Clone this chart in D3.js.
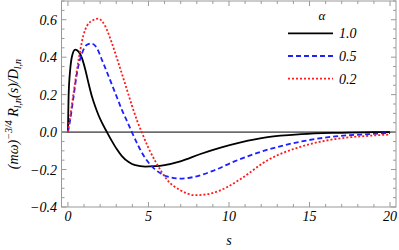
<!DOCTYPE html>
<html>
<head>
<meta charset="utf-8">
<script src="https://cdn.jsdelivr.net/npm/d3@7"></script>
<style>
  body { margin: 0; background: #fff; }
  text { font-family: "Liberation Serif", "DejaVu Serif", serif; font-style: italic; }
</style>
</head>
<body>
<div id="chart"></div>
<script>
// values
const alphas = ["1.0", "0.5", "0.2"];
const sBlack = [0, 0.02, 0.04, 0.14, 0.25, 0.45, 0.66, 0.87, 1.08, 1.28, 1.49, 1.7, 1.9, 2.11, 2.42, 2.73, 3.04, 3.35, 3.77, 4.18, 4.8, 5.42, 6.0, 6.98, 8.23, 9.48, 10.73, 12.4, 14.5, 16.6, 18.5, 20];
const vBlack = [0, 0.1, 0.19, 0.333, 0.404, 0.44, 0.43, 0.395, 0.333, 0.26, 0.19, 0.135, 0.09, 0.05, 0, -0.048, -0.092, -0.128, -0.16, -0.177, -0.184, -0.182, -0.176, -0.156, -0.117, -0.083, -0.055, -0.027, -0.011, -0.004, -0.001, 0];
const sBlue = [0, 0.14, 0.35, 0.56, 0.87, 1.18, 1.45, 1.8, 2.11, 2.53, 2.94, 3.35, 3.77, 3.97, 4.39, 4.8, 5.32, 5.73, 6.15, 6.98, 7.8, 9.06, 10.3, 12.4, 14.5, 16.6, 18.65, 20];
const vBlue = [0, 0.066, 0.19, 0.315, 0.42, 0.466, 0.473, 0.448, 0.386, 0.297, 0.208, 0.119, 0.039, 0, -0.077, -0.139, -0.192, -0.219, -0.237, -0.248, -0.24, -0.205, -0.158, -0.094, -0.05, -0.023, -0.011, -0.005];
const sRed = [0, 0.14, 0.35, 0.56, 0.77, 0.97, 1.2, 1.5, 1.88, 2.32, 2.73, 3.15, 3.56, 3.98, 4.3, 4.58, 5.0, 5.42, 5.8, 6.15, 6.98, 7.92, 8.86, 9.9, 10.73, 12.4, 14.5, 16.6, 18.65, 20];
const vRed = [0, 0.083, 0.208, 0.333, 0.44, 0.52, 0.57, 0.595, 0.606, 0.565, 0.475, 0.365, 0.255, 0.14, 0.06, 0, -0.085, -0.155, -0.21, -0.254, -0.31, -0.337, -0.328, -0.293, -0.25, -0.15, -0.077, -0.037, -0.02, -0.013];
const xTicks = [0, 5, 10, 15, 20];
const yTicks = [-0.4, -0.2, 0, 0.2, 0.4, 0.6];

const W = 399, H = 250;
const plot = { left: 61.5, right: 396, top: 1, bottom: 207 };

const svg = d3.select("#chart").append("svg")
  .attr("width", W).attr("height", H);

const x = d3.scaleLinear().domain([-0.4, 20.37]).range([plot.left, plot.right]);
const y = d3.scaleLinear().domain([-0.4, 0.7]).range([plot.bottom, plot.top]);

const frameColor = "#999";

// zero line
svg.append("line")
  .attr("x1", plot.left).attr("x2", plot.right)
  .attr("y1", y(0)).attr("y2", y(0))
  .attr("stroke", "#000").attr("stroke-width", 1);

// curves
const series = [
  { s: sBlack, v: vBlack, color: "#000", dash: null, width: 1.8 },
  { s: sBlue, v: vBlue, color: "#1f1fff", dash: "5,3", width: 1.8 },
  { s: sRed, v: vRed, color: "#ff1a1a", dash: "2,2", width: 1.8 }
];
const line = d3.line()
  .x(d => x(d[0])).y(d => y(d[1]))
  .curve(d3.curveMonotoneX);

series.forEach(sr => {
  svg.append("path")
    .datum(d3.zip(sr.s, sr.v))
    .attr("d", line)
    .attr("fill", "none")
    .attr("stroke", sr.color)
    .attr("stroke-width", sr.width)
    .attr("stroke-dasharray", sr.dash);
});

// frame
svg.append("rect")
  .attr("x", plot.left).attr("y", plot.top)
  .attr("width", plot.right - plot.left).attr("height", plot.bottom - plot.top)
  .attr("fill", "none").attr("stroke", frameColor).attr("stroke-width", 1);

// ticks on all four sides, pointing inward
const xMinor = d3.range(0, 21, 1);
const yMinor = d3.range(-8, 15).map(k => k * 0.05);
xMinor.forEach(t => {
  const len = t % 5 === 0 ? 5 : 3;
  svg.append("line").attr("x1", x(t)).attr("x2", x(t))
    .attr("y1", plot.bottom).attr("y2", plot.bottom - len).attr("stroke", frameColor);
  svg.append("line").attr("x1", x(t)).attr("x2", x(t))
    .attr("y1", plot.top).attr("y2", plot.top + len).attr("stroke", frameColor);
});
yMinor.forEach((t, k) => {
  const len = k % 4 === 0 ? 5 : 3;
  svg.append("line").attr("x1", plot.left).attr("x2", plot.left + len)
    .attr("y1", y(t)).attr("y2", y(t)).attr("stroke", frameColor);
  svg.append("line").attr("x1", plot.right).attr("x2", plot.right - len)
    .attr("y1", y(t)).attr("y2", y(t)).attr("stroke", frameColor);
});

// tick labels
svg.selectAll(".xl").data(xTicks).enter().append("text")
  .attr("x", d => x(d)).attr("y", 221)
  .attr("text-anchor", "middle").attr("font-size", 14)
  .text(d => d);
svg.selectAll(".yl").data(yTicks).enter().append("text")
  .attr("x", 57).attr("y", d => y(d) + 5)
  .attr("text-anchor", "end").attr("font-size", 14)
  .text(d => d3.format(".1f")(d).replace("-", "\u2212"));

// axis labels
svg.append("text")
  .attr("x", x(10)).attr("y", 245)
  .attr("text-anchor", "middle").attr("font-size", 14)
  .text("s");

const yl = svg.append("text")
  .attr("transform", `translate(18, ${114}) rotate(-90)`)
  .attr("text-anchor", "middle").attr("font-size", 14);
yl.append("tspan").text("(mω)");
yl.append("tspan").attr("dy", -6).attr("font-size", 10).text("−3/4");
yl.append("tspan").attr("dy", 6).text(" R");
yl.append("tspan").attr("dy", 3).attr("font-size", 10).text("l,n");
yl.append("tspan").attr("dy", -3).text("(s)/D");
yl.append("tspan").attr("dy", 3).attr("font-size", 10).text("l,n");

// legend
svg.append("text")
  .attr("x", 322).attr("y", 20)
  .attr("text-anchor", "middle").attr("font-size", 13)
  .text("α");
const legY = d3.scaleBand().domain(alphas).range([22, 90]);
alphas.forEach((a, i) => {
  const cy = legY(a) + legY.bandwidth() / 2;
  svg.append("line")
    .attr("x1", 288).attr("x2", 333)
    .attr("y1", cy).attr("y2", cy)
    .attr("stroke", series[i].color).attr("stroke-width", series[i].width)
    .attr("stroke-dasharray", series[i].dash);
  svg.append("text")
    .attr("x", 339).attr("y", cy + 5)
    .attr("font-size", 14)
    .text(a);
});
</script>
</body>
</html>
